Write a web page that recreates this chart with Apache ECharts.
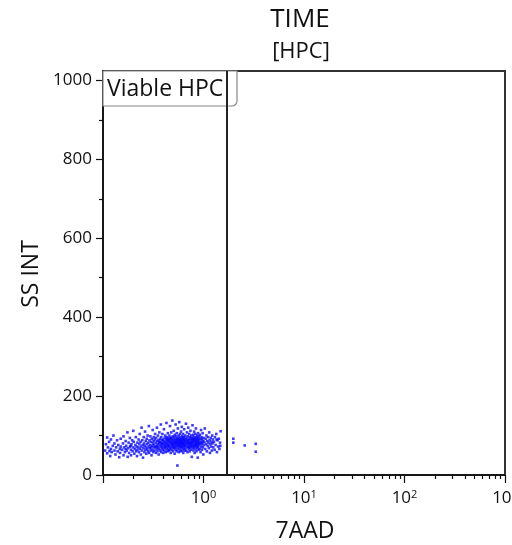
<!DOCTYPE html>
<html>
<head>
<meta charset="utf-8">
<script src="https://cdn.jsdelivr.net/npm/echarts@6/dist/echarts.min.js"></script>
<style>
html,body{margin:0;padding:0;background:#fff;}
#chart{width:512px;height:545px;}
</style>
</head>
<body>
<div id="chart"></div>
<script>
// ---- Data ----
const titleMain = 'TIME';
const titleSub = '[HPC]';
const xAxisName = '7AAD';
const yAxisName = 'SS INT';
const gateName = 'Viable HPC';
const gateX = 1.72;            // 7AAD gate boundary
const xMin = 0.1, xMax = 1000;
const yMin = 0, yMax = 1024;
const yTicks = [0, 200, 400, 600, 800, 1000];
const yMinorTicks = [100, 300, 500, 700, 900];
const xDecadeExponents = [-1, 0, 1, 2, 3];
const xMinorMultipliers = [2, 3, 4, 5, 6, 7, 8, 9];

// events: [7AAD, SS INT]
const cellPoints = [
[0.105,62],[0.107,78],[0.11,95],[0.11,55],[0.112,70],[0.115,84],[0.118,48],[0.12,66],[0.12,90],[0.122,58],
[0.125,74],[0.127,100],[0.13,62],[0.13,80],[0.133,52],[0.135,70],[0.138,88],[0.14,60],[0.142,76],[0.145,45],
[0.147,66],[0.15,92],[0.15,72],[0.148,56],[0.116,61],
[0.155,64],[0.158,80],[0.16,50],[0.16,98],[0.162,70],[0.165,58],[0.168,86],[0.17,74],[0.172,62],[0.175,108],
[0.176,46],[0.178,68],[0.18,82],[0.182,56],[0.185,94],[0.186,72],[0.19,64],[0.19,50],[0.192,78],[0.195,88],
[0.197,60],[0.2,70],[0.2,112],[0.202,84],[0.205,54],[0.207,66],[0.21,76],[0.212,96],[0.214,60],[0.216,72],
[0.218,48],[0.22,82],[0.22,64],[0.168,66],[0.188,74],
[0.225,70],[0.226,90],[0.228,58],[0.23,78],[0.232,104],[0.234,66],[0.236,84],[0.238,52],[0.24,72],[0.242,120],
[0.244,62],[0.246,88],[0.248,76],[0.25,44],[0.252,68],[0.254,96],[0.256,80],[0.258,58],[0.26,74],[0.262,110],
[0.264,64],[0.266,86],[0.268,70],[0.27,54],[0.272,92],[0.274,78],[0.276,66],[0.278,100],[0.28,60],[0.282,82],
[0.284,72],[0.286,124],[0.288,56],[0.29,88],[0.292,68],[0.294,76],[0.296,98],[0.298,62],[0.3,84],[0.302,70],
[0.304,50],[0.306,92],[0.308,74],[0.31,64],[0.312,114],[0.314,80],[0.316,58],[0.318,86],[0.32,70],[0.32,96],
[0.322,76],[0.325,62],[0.327,90],[0.33,104],[0.332,70],[0.334,82],[0.336,56],[0.338,94],[0.34,74],[0.342,66],
[0.344,120],[0.346,86],[0.348,60],[0.35,78],[0.352,100],[0.354,70],[0.356,88],[0.358,52],[0.36,82],[0.362,66],
[0.364,108],[0.366,76],[0.368,92],[0.37,62],[0.372,84],[0.374,72],[0.376,128],[0.378,58],[0.38,96],[0.382,80],
[0.384,68],[0.386,88],[0.388,74],[0.39,104],[0.392,64],[0.394,90],[0.396,78],[0.398,56],[0.4,86],[0.402,70],
[0.404,116],[0.406,82],[0.408,62],[0.41,94],[0.412,76],[0.414,68],[0.416,100],[0.418,84],[0.42,58],[0.422,90],
[0.424,72],[0.426,80],[0.428,132],[0.43,66],[0.432,96],[0.434,78],[0.436,86],[0.438,60],[0.44,74],[0.442,106],
[0.444,88],[0.446,70],[0.448,82],[0.45,94],[0.45,64],[0.345,72],[0.385,80],[0.415,74],[0.435,92],[0.365,84],
[0.452,76],[0.454,88],[0.456,62],[0.458,100],[0.46,72],[0.462,84],[0.464,124],[0.466,66],[0.468,92],[0.47,78],
[0.472,56],[0.474,86],[0.476,70],[0.478,108],[0.48,82],[0.482,94],[0.484,64],[0.486,76],[0.488,88],[0.49,138],
[0.492,72],[0.494,98],[0.496,80],[0.498,60],[0.5,90],[0.502,74],[0.504,84],[0.506,112],[0.508,68],[0.51,96],
[0.512,78],[0.514,86],[0.516,54],[0.518,102],[0.52,70],[0.522,82],[0.524,92],[0.526,76],[0.528,128],[0.53,64],
[0.532,88],[0.534,74],[0.536,98],[0.538,84],[0.54,60],[0.542,106],[0.544,80],[0.546,70],[0.548,90],[0.55,24],
[0.552,78],[0.554,86],[0.556,118],[0.558,66],[0.56,94],[0.562,74],[0.564,84],[0.566,100],[0.568,58],[0.57,88],
[0.572,76],[0.574,134],[0.576,70],[0.578,92],[0.58,82],[0.582,64],[0.584,104],[0.586,78],[0.588,86],[0.59,72],
[0.592,96],[0.594,60],[0.596,84],[0.598,110],[0.6,76],[0.602,90],[0.604,68],[0.606,80],[0.608,122],[0.61,86],
[0.612,72],[0.614,98],[0.616,62],[0.618,84],[0.62,78],[0.622,92],[0.624,70],[0.626,104],[0.628,82],[0.63,56],
[0.632,88],[0.634,76],[0.636,96],[0.638,66],[0.64,84],[0.642,116],[0.644,74],[0.646,90],[0.648,80],[0.65,62],
[0.47,94],[0.51,68],[0.53,82],[0.55,92],[0.57,80],[0.59,90],[0.61,78],[0.63,94],[0.49,80],[0.6,86],
[0.652,86],[0.655,74],[0.658,100],[0.66,68],[0.663,90],[0.666,80],[0.669,130],[0.672,62],[0.675,94],[0.678,76],
[0.681,84],[0.684,108],[0.687,70],[0.69,88],[0.693,58],[0.696,98],[0.699,78],[0.702,86],[0.705,120],[0.708,72],
[0.711,92],[0.714,66],[0.717,82],[0.72,104],[0.723,76],[0.726,88],[0.729,60],[0.732,96],[0.735,80],[0.738,70],
[0.741,112],[0.744,84],[0.747,74],[0.75,92],[0.753,64],[0.756,100],[0.759,78],[0.762,86],[0.765,46],[0.768,94],
[0.771,72],[0.774,82],[0.777,126],[0.78,68],[0.783,90],[0.786,76],[0.789,102],[0.792,84],[0.795,62],[0.798,96],
[0.801,74],[0.804,88],[0.807,110],[0.81,70],[0.813,82],[0.816,56],[0.819,94],[0.822,78],[0.825,86],[0.828,104],
[0.831,66],[0.834,90],[0.837,76],[0.84,118],[0.843,84],[0.846,72],[0.849,96],[0.852,60],[0.855,80],[0.858,92],
[0.861,74],[0.864,100],[0.867,86],[0.87,68],[0.873,90],[0.876,44],[0.879,78],[0.882,106],[0.885,84],[0.888,72],
[0.891,94],[0.894,64],[0.897,82],[0.9,98],[0.7,82],[0.75,80],[0.8,90],[0.85,78],[0.72,70],[0.78,88],
[0.905,76],[0.91,88],[0.915,66],[0.92,102],[0.925,80],[0.93,92],[0.935,58],[0.94,84],[0.945,114],[0.95,72],
[0.955,96],[0.96,78],[0.965,64],[0.97,90],[0.975,82],[0.98,106],[0.985,70],[0.99,86],[0.995,52],[1.0,94],
[1.01,76],[1.02,84],[1.03,118],[1.04,66],[1.05,92],[1.06,78],[1.07,100],[1.08,60],[1.09,86],[1.1,74],
[1.11,96],[1.12,82],[1.13,68],[1.14,108],[1.15,88],[1.16,56],[1.17,78],[1.18,94],[1.19,72],[1.2,84],
[1.21,62],[1.22,100],[1.23,80],[1.24,90],[1.25,70],
[1.27,84],[1.29,64],[1.3,96],[1.32,76],[1.34,104],[1.36,58],[1.38,88],[1.4,72],[1.42,92],[1.44,66],
[1.46,82],[1.48,111],[1.47,74],[1.35,90],
[1.98,92],[1.98,82],[2.57,75],[3.31,79],[3.31,59]
];

// ---- Derived tick positions ----
const xMinorLogs = [];
xDecadeExponents.slice(0, -1).forEach(e => {
  xMinorMultipliers.forEach(m => xMinorLogs.push(Math.log10(m) + e));
});

const FONT = '"Open Sans", "Noto Sans", sans-serif';
const chart = echarts.init(document.getElementById('chart'), null, {renderer: 'canvas'});

const grid = {left: 103, right: 7, top: 71, bottom: 70};

chart.setOption({
  animation: false,
  backgroundColor: '#fff',
  grid: Object.assign({
    show: true, borderColor: '#333', borderWidth: 2, backgroundColor: 'transparent',
    containLabel: false, outerBoundsMode: 'none'
  }, grid),
  xAxis: [
    {
      type: 'log', logBase: 10, min: xMin, max: xMax, position: 'bottom',
      axisLine: {show: true, onZero: false, lineStyle: {color: '#111', width: 1.5}},
      axisTick: {show: true, length: 8, lineStyle: {color: '#111', width: 1.2}},
      splitLine: {show: false},
      minorTick: {show: false},
      axisLabel: {
        show: true, margin: 12, color: '#111', fontFamily: FONT,
        showMinLabel: true, showMaxLabel: true, hideOverlap: false,
        formatter: function (v) {
          const e = Math.round(Math.log10(v));
          if (e < 0) return '';
          return '{b|10}{s|' + e + '}';
        },
        rich: {
          b: {fontSize: 17, fontFamily: FONT, color: '#111', verticalAlign: 'bottom', lineHeight: 20},
          s: {fontSize: 11, fontFamily: FONT, color: '#111', verticalAlign: 'bottom', lineHeight: 20, padding: [0, 0, 7, 0]}
        }
      }
    },
    {
      type: 'value', min: Math.log10(xMin), max: Math.log10(xMax), position: 'bottom',
      axisLine: {show: false, onZero: false},
      axisTick: {show: true, length: 4, customValues: xMinorLogs, lineStyle: {color: '#111', width: 1.2}},
      axisLabel: {show: false},
      splitLine: {show: false}
    }
  ],
  yAxis: [
    {
      type: 'value', min: yMin, max: yMax, interval: 200, position: 'left',
      axisLine: {show: true, onZero: false, lineStyle: {color: '#111', width: 1.5}},
      axisTick: {show: true, length: 7, customValues: yTicks, lineStyle: {color: '#111', width: 1.2}},
      axisLabel: {show: true, customValues: yTicks, margin: 11, fontSize: 17, color: '#111', fontFamily: FONT,
        formatter: function (v) { return String(v); }},
      splitLine: {show: false}
    },
    {
      type: 'value', min: yMin, max: yMax, position: 'left',
      axisLine: {show: false, onZero: false},
      axisTick: {show: true, length: 4, customValues: yMinorTicks, lineStyle: {color: '#111', width: 1.2}},
      axisLabel: {show: false},
      splitLine: {show: false}
    }
  ],
  series: [{
    type: 'scatter',
    xAxisIndex: 0, yAxisIndex: 0,
    data: cellPoints,
    symbol: 'rect',
    symbolSize: 2.6,
    clip: true,
    silent: true,
    z: 3,
    itemStyle: {color: '#0a0aff', opacity: 0.8},
    markLine: {
      silent: true, symbol: 'none', z: 6,
      label: {show: false},
      lineStyle: {color: '#222', width: 2, type: 'solid'},
      data: [{xAxis: gateX}]
    }
  }],
  graphic: [
    {type: 'text', z: 10, x: 300, y: 20, style: {text: titleMain, font: '26px ' + FONT, fill: '#111', align: 'center', verticalAlign: 'middle'}},
    {type: 'text', z: 10, x: 301, y: 52, style: {text: titleSub, font: '22px ' + FONT, fill: '#111', align: 'center', verticalAlign: 'middle'}},
    {type: 'text', z: 10, x: 31, y: 274, rotation: Math.PI / 2, style: {text: yAxisName, font: '23px ' + FONT, fill: '#111', align: 'center', verticalAlign: 'middle'}},
    {type: 'text', z: 10, x: 305, y: 531, style: {text: xAxisName, font: '23px ' + FONT, fill: '#111', align: 'center', verticalAlign: 'middle'}},
    {type: 'rect', z: 1, shape: {x: 103, y: 71, width: 134, height: 35, r: [0, 0, 5, 0]}, style: {fill: '#fff', stroke: '#888', lineWidth: 1.2}},
    {type: 'text', z: 2, x: 107, y: 89, style: {text: gateName, font: '23px ' + FONT, fill: '#111', align: 'left', verticalAlign: 'middle'}}
  ]
});
</script>
</body>
</html>
